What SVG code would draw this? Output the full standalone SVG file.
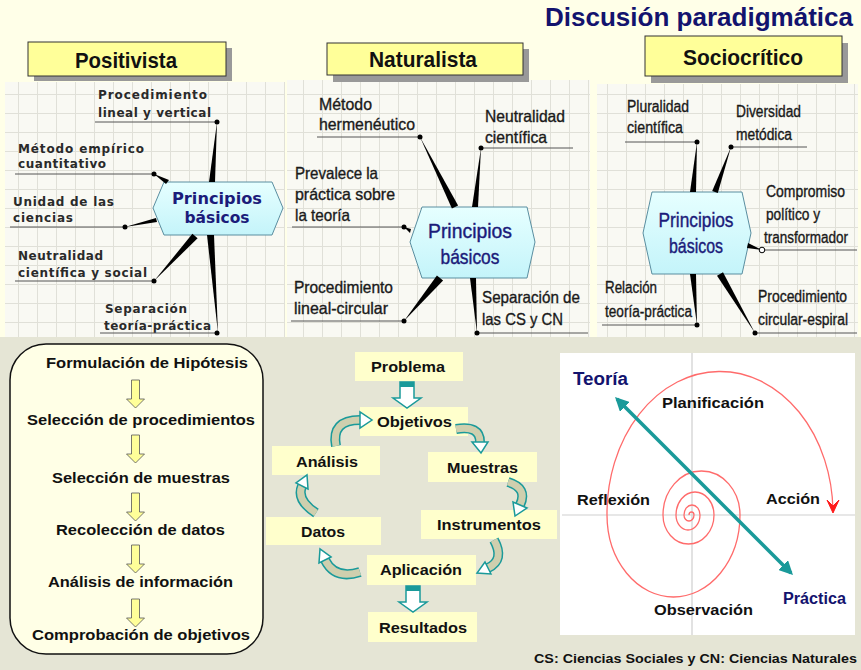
<svg xmlns="http://www.w3.org/2000/svg" width="861" height="670" viewBox="0 0 861 670">
<defs>
<style>
.t1{font-family:"DejaVu Sans",Verdana,sans-serif;font-weight:bold;font-size:12px;fill:#2a2a2a}
.t2{font-family:"Liberation Sans",Arial,sans-serif;font-size:16.5px;fill:#1a1a1a;stroke:#1a1a1a;stroke-width:0.35}
.t3{font-family:"Liberation Sans",Arial,sans-serif;font-size:16px;fill:#1a1a1a;stroke:#1a1a1a;stroke-width:0.35}
.hx1{font-family:"DejaVu Sans",Verdana,sans-serif;font-weight:bold;font-size:16px;fill:#1b1b7a;text-anchor:middle}
.hx2{font-family:"Liberation Sans",Arial,sans-serif;font-size:21px;fill:#1b1b7a;stroke:#1b1b7a;stroke-width:0.4;text-anchor:middle}
.ttl{font-family:"Liberation Sans",Arial,sans-serif;font-weight:bold;font-size:22px;fill:#111;text-anchor:middle}
.b{font-family:"Liberation Sans",Arial,sans-serif;font-weight:bold;font-size:15px;fill:#111;text-anchor:middle}
.nv{font-family:"Liberation Sans",Arial,sans-serif;font-weight:bold;fill:#13136e}
.ul{stroke:#555;stroke-width:1}
.wg{fill:#000}
.dot{fill:#000}
.hex{fill:url(#hg);stroke:#5a8ea0;stroke-width:1}
.tbox{fill:#ffff99;stroke:#333;stroke-width:1}
.shd{fill:#999}
.yb{fill:#ffffcc}
.ya{fill:#ffff99;stroke:#555;stroke-width:0.8}
.ta{fill:#fff;stroke:#1a9a9a;stroke-width:1.5}
.bo{fill:none;stroke:#1a9a9a;stroke-width:10;stroke-linecap:butt}
.bi{fill:none;stroke:#cfcfae;stroke-width:7;stroke-linecap:butt}
.ah{fill:#fff;stroke:#1a9a9a;stroke-width:1.5;stroke-linejoin:miter}
</style>
<pattern id="grid" width="19" height="19" patternUnits="userSpaceOnUse">
<rect width="19" height="19" fill="#f9f9f3"/>
<path d="M18.5 0V19M0 18.5H19" stroke="#e0e0d8" stroke-width="1" fill="none"/>
</pattern>
<linearGradient id="hg" x1="0" y1="0" x2="0" y2="1">
<stop offset="0" stop-color="#e6ffff"/>
<stop offset="1" stop-color="#c4f4fa"/>
</linearGradient>
<path id="yarrow" d="M-4 0H4V19H9L0 28L-9 19H-4Z"/>
<path id="tarrow" d="M-7 0H7V16H14L0 26L-14 16H-7Z"/>
<marker id="mt" viewBox="0 0 10 10" refX="8" refY="5" markerWidth="4" markerHeight="4" orient="auto-start-reverse">
<path d="M0 0L10 5L0 10Z" fill="#1a9a9a"/>
</marker>
</defs>

<!-- backgrounds -->
<rect x="0" y="0" width="861" height="337" fill="#ffffe8"/>
<rect x="0" y="337" width="861" height="333" fill="#e5e5d5"/>
<rect x="5" y="82" width="280" height="255" fill="url(#grid)"/>
<rect x="287" y="80" width="303" height="257" fill="url(#grid)"/>
<rect x="597" y="84" width="261" height="253" fill="url(#grid)"/>

<text class="nv" x="545" y="26" font-size="25" textLength="308" lengthAdjust="spacingAndGlyphs">Discusión paradigmática</text>

<!-- title boxes -->
<g id="positivista">
<rect class="shd" x="34" y="48" width="198" height="33"/>
<rect class="tbox" x="28" y="42" width="198" height="34"/>
<text class="ttl" x="126" y="68" textLength="102" lengthAdjust="spacingAndGlyphs">Positivista</text>
</g>
<g id="naturalista">
<rect class="shd" x="333" y="49" width="196" height="33"/>
<rect class="tbox" x="327" y="43" width="196" height="32"/>
<text class="ttl" x="423" y="67" textLength="108" lengthAdjust="spacingAndGlyphs">Naturalista</text>
</g>
<g id="sociocritico">
<rect class="shd" x="651" y="43" width="197" height="40"/>
<rect class="tbox" x="645" y="36" width="197" height="40"/>
<text class="ttl" x="743" y="65" font-size="19" textLength="120" lengthAdjust="spacingAndGlyphs">Sociocrítico</text>
</g>

<!-- Map 1 nodes -->
<g id="hex1">
<polygon class="hex" points="153,208 164,182 272,182 283,208 272,235 164,235"/>
<text class="hx1" x="217" y="204" textLength="90" lengthAdjust="spacingAndGlyphs">Principios</text>
<text class="hx1" x="217" y="223" textLength="65" lengthAdjust="spacingAndGlyphs">básicos</text>
</g>
<g id="p1a"><text class="t1" x="98" y="99" textLength="109">Procedimiento</text><text class="t1" x="98" y="117" textLength="113">lineal y vertical</text></g>
<g id="p1b"><text class="t1" x="18" y="153" textLength="126">Método empírico</text><text class="t1" x="18" y="168" textLength="88">cuantitativo</text></g>
<g id="p1c"><text class="t1" x="13" y="206" textLength="101">Unidad de las</text><text class="t1" x="13" y="222" textLength="60">ciencias</text></g>
<g id="p1d"><text class="t1" x="18" y="260" textLength="85">Neutralidad</text><text class="t1" x="18" y="277" textLength="129">científica y social</text></g>
<g id="p1e"><text class="t1" x="105" y="313" textLength="82">Separación</text><text class="t1" x="104" y="330" textLength="107">teoría-práctica</text></g>

<!-- Map 2 nodes -->
<g id="hex2">
<polygon class="hex" points="410,242 422,207 527,207 535,242 527,278 422,278"/>
<text class="hx2" x="470" y="238" textLength="84" lengthAdjust="spacingAndGlyphs">Principios</text>
<text class="hx2" x="470" y="264" textLength="59" lengthAdjust="spacingAndGlyphs">básicos</text>
</g>
<g id="p2a"><text class="t2" x="319" y="110" textLength="53" lengthAdjust="spacingAndGlyphs">Método</text><text class="t2" x="319" y="130" textLength="96" lengthAdjust="spacingAndGlyphs">hermenéutico</text></g>
<g id="p2b"><text class="t2" x="485" y="122" textLength="80" lengthAdjust="spacingAndGlyphs">Neutralidad</text><text class="t2" x="485" y="143" textLength="62" lengthAdjust="spacingAndGlyphs">científica</text></g>
<g id="p2c"><text class="t2" x="295" y="179" textLength="83" lengthAdjust="spacingAndGlyphs">Prevalece la</text><text class="t2" x="295" y="200" textLength="100" lengthAdjust="spacingAndGlyphs">práctica sobre</text><text class="t2" x="295" y="221" textLength="55" lengthAdjust="spacingAndGlyphs">la teoría</text></g>
<g id="p2d"><text class="t2" x="294" y="293" textLength="99" lengthAdjust="spacingAndGlyphs">Procedimiento</text><text class="t2" x="294" y="314" textLength="94" lengthAdjust="spacingAndGlyphs">lineal-circular</text></g>
<g id="p2e"><text class="t2" x="482" y="303" textLength="98" lengthAdjust="spacingAndGlyphs">Separación de</text><text class="t2" x="482" y="325" textLength="81" lengthAdjust="spacingAndGlyphs">las CS y CN</text></g>

<!-- Map 3 nodes -->
<g id="hex3">
<polygon class="hex" points="643,233 652,192 742,192 751,233 742,274 652,274"/>
<text class="hx2" x="696" y="227" font-size="20" textLength="75" lengthAdjust="spacingAndGlyphs">Principios</text>
<text class="hx2" x="696" y="253" font-size="20" textLength="54" lengthAdjust="spacingAndGlyphs">básicos</text>
</g>
<g id="p3a"><text class="t3" x="627" y="112" textLength="62" lengthAdjust="spacingAndGlyphs">Pluralidad</text><text class="t3" x="627" y="133" textLength="56" lengthAdjust="spacingAndGlyphs">científica</text></g>
<g id="p3b"><text class="t3" x="736" y="117" textLength="65" lengthAdjust="spacingAndGlyphs">Diversidad</text><text class="t3" x="736" y="140" textLength="56" lengthAdjust="spacingAndGlyphs">metódica</text></g>
<g id="p3c"><text class="t3" x="766" y="197" textLength="79" lengthAdjust="spacingAndGlyphs">Compromiso</text><text class="t3" x="766" y="220" textLength="54" lengthAdjust="spacingAndGlyphs">político y</text><text class="t3" x="764" y="243" font-size="14" textLength="84" lengthAdjust="spacingAndGlyphs">transformador</text></g>
<g id="p3d"><text class="t3" x="605" y="293" textLength="52" lengthAdjust="spacingAndGlyphs">Relación</text><text class="t3" x="605" y="317" textLength="87" lengthAdjust="spacingAndGlyphs">teoría-práctica</text></g>
<g id="p3e"><text class="t3" x="758" y="302" textLength="89" lengthAdjust="spacingAndGlyphs">Procedimiento</text><text class="t3" x="758" y="325" textLength="90" lengthAdjust="spacingAndGlyphs">circular-espiral</text></g>

<!-- Left process box -->
<g id="proceso">
<rect x="10" y="344" width="253" height="310" rx="36" fill="#ffffe6" stroke="#111" stroke-width="1.5"/>
<text class="b" x="147" y="368" textLength="202" lengthAdjust="spacingAndGlyphs">Formulación de Hipótesis</text>
<text class="b" x="141" y="425" textLength="228" lengthAdjust="spacingAndGlyphs">Selección de procedimientos</text>
<text class="b" x="141" y="483" textLength="178" lengthAdjust="spacingAndGlyphs">Selección de muestras</text>
<text class="b" x="140.5" y="535" textLength="169" lengthAdjust="spacingAndGlyphs">Recolección de datos</text>
<text class="b" x="140.5" y="587" textLength="185" lengthAdjust="spacingAndGlyphs">Análisis de información</text>
<text class="b" x="141" y="640" textLength="218" lengthAdjust="spacingAndGlyphs">Comprobación de objetivos</text>
</g>

<!-- Middle cycle nodes -->
<g id="problema"><rect class="yb" x="355" y="352" width="108" height="29"/><text class="b" x="408" y="372" textLength="74" lengthAdjust="spacingAndGlyphs">Problema</text></g>
<g id="objetivos"><rect class="yb" x="360" y="407" width="108" height="29"/><text class="b" x="414.5" y="427" textLength="75" lengthAdjust="spacingAndGlyphs">Objetivos</text></g>
<g id="analisis"><rect class="yb" x="272" y="446" width="108" height="29"/><text class="b" x="327" y="467" textLength="62" lengthAdjust="spacingAndGlyphs">Análisis</text></g>
<g id="muestras"><rect class="yb" x="428" y="452" width="109" height="30"/><text class="b" x="482.5" y="473" textLength="71" lengthAdjust="spacingAndGlyphs">Muestras</text></g>
<g id="instrumentos"><rect class="yb" x="421" y="510" width="136" height="29"/><text class="b" x="489" y="530" textLength="104" lengthAdjust="spacingAndGlyphs">Instrumentos</text></g>
<g id="datos"><rect class="yb" x="266" y="517" width="115" height="28"/><text class="b" x="323" y="537" textLength="44" lengthAdjust="spacingAndGlyphs">Datos</text></g>
<g id="aplicacion"><rect class="yb" x="367" y="555" width="109" height="30"/><text class="b" x="421" y="575" textLength="82" lengthAdjust="spacingAndGlyphs">Aplicación</text></g>
<g id="resultados"><rect class="yb" x="368" y="612" width="109" height="30"/><text class="b" x="423" y="633" textLength="88" lengthAdjust="spacingAndGlyphs">Resultados</text></g>

<!-- Right spiral panel -->
<g id="espiral">
<rect x="560" y="353" width="295" height="282" fill="#fff"/>
<line x1="692" y1="353" x2="692" y2="635" stroke="#cfcfcf" stroke-width="1.2"/>
<line x1="562" y1="515" x2="855" y2="515" stroke="#cfcfcf" stroke-width="1.2"/>
<text class="nv" x="573" y="385" font-size="18" textLength="55" lengthAdjust="spacingAndGlyphs">Teoría</text>
<text class="b" x="713" y="408" textLength="102" lengthAdjust="spacingAndGlyphs">Planificación</text>
<text class="b" x="613.5" y="505" textLength="73" lengthAdjust="spacingAndGlyphs">Reflexión</text>
<text class="b" x="793" y="504" textLength="54" lengthAdjust="spacingAndGlyphs">Acción</text>
<text class="b" x="703.5" y="615" textLength="99" lengthAdjust="spacingAndGlyphs">Observación</text>
<text class="nv" x="783" y="604" font-size="16" textLength="63" lengthAdjust="spacingAndGlyphs">Práctica</text>
</g>

<!-- connectors -->
<g id="connectors">
<!-- map 1 -->
<line class="ul" x1="95" y1="122" x2="217" y2="122"/>
<line class="ul" x1="15" y1="174" x2="154" y2="174"/>
<line class="ul" x1="10" y1="227" x2="125" y2="227"/>
<line class="ul" x1="15" y1="281" x2="154" y2="281"/>
<line class="ul" x1="100" y1="333" x2="217" y2="333"/>
<polygon class="wg" points="217,122 215,182 209,182"/>
<polygon class="wg" points="207,235 214,235 218,333"/>
<polygon class="wg" points="154,174 169,180 166,184"/>
<polygon class="wg" points="125,227 156,218 157,222"/>
<polygon class="wg" points="154,281 197.6,238.3 192.4,233.7"/>
<circle class="dot" cx="217" cy="122" r="2.5"/>
<circle class="dot" cx="154" cy="174" r="2.5"/>
<circle class="dot" cx="125" cy="227" r="2.5"/>
<circle class="dot" cx="154" cy="281" r="2.5"/>
<circle class="dot" cx="217" cy="333" r="2.5"/>
<!-- map 2 -->
<line class="ul" x1="317" y1="137" x2="420" y2="137"/>
<line class="ul" x1="481" y1="148" x2="573" y2="148"/>
<line class="ul" x1="292" y1="227" x2="404" y2="227"/>
<line class="ul" x1="291" y1="321" x2="404" y2="321"/>
<line class="ul" x1="477" y1="333" x2="588" y2="333"/>
<polygon class="wg" points="420,137 458.1,205.4 451.9,208.6"/>
<polygon class="wg" points="481,148 478,207 472,207"/>
<polygon class="wg" points="404,227 411,229 410,233"/>
<polygon class="wg" points="404,321 443.1,280.6 436.9,275.4"/>
<polygon class="wg" points="470,278 476,278 477,333"/>
<circle class="dot" cx="420" cy="137" r="2.5"/>
<circle class="dot" cx="481" cy="148" r="2.5"/>
<circle class="dot" cx="404" cy="227" r="2.5"/>
<circle class="dot" cx="404" cy="321" r="2.5"/>
<circle class="dot" cx="477" cy="333" r="2.5"/>
<!-- map 3 -->
<line class="ul" x1="625" y1="142" x2="697" y2="142"/>
<line class="ul" x1="731" y1="147" x2="807" y2="147"/>
<line class="ul" x1="762" y1="250" x2="857" y2="250"/>
<line class="ul" x1="602" y1="325" x2="697" y2="325"/>
<line class="ul" x1="754" y1="333" x2="857" y2="333"/>
<polygon class="wg" points="697,142 696,192 690,192"/>
<polygon class="wg" points="731,147 717.8,193 712.2,191"/>
<polygon class="wg" points="748,243 762,250 747,248"/>
<polygon class="wg" points="690,274 696,274 697,325"/>
<polygon class="wg" points="717,275.8 723,272.2 755,333"/>
<circle class="dot" cx="697" cy="142" r="2.5"/>
<circle class="dot" cx="731" cy="147" r="2.5"/>
<circle cx="762" cy="250" r="2.8" fill="#fff" stroke="#000" stroke-width="1"/>
<circle class="dot" cx="697" cy="325" r="2.5"/>
<circle class="dot" cx="755" cy="333" r="2.5"/>

<!-- yellow arrows in left box -->
<use href="#yarrow" class="ya" x="135.5" y="380"/>
<use href="#yarrow" class="ya" x="135.5" y="435"/>
<use href="#yarrow" class="ya" x="135.5" y="493"/>
<use href="#yarrow" class="ya" x="135.5" y="545"/>
<use href="#yarrow" class="ya" x="135.5" y="599"/>

<!-- teal down arrows -->
<use href="#tarrow" class="ta" x="407" y="382"/>
<rect x="400" y="382" width="14" height="5" fill="#1a9a9a"/>
<use href="#tarrow" class="ta" x="413" y="586"/>
<rect x="406" y="586" width="14" height="5" fill="#1a9a9a"/>

<!-- curved arrows -->
<path class="bo" d="M336 446Q331 420 360 420"/>
<path class="bi" d="M336 446Q331 420 360 420"/>
<polygon class="ah" points="360,412 360,428 372,420"/>

<path class="bo" d="M456 429Q480 425 480 442"/>
<path class="bi" d="M456 429Q480 425 480 442"/>
<polygon class="ah" points="472,442 488,442 481,453"/>

<path class="bo" d="M508 482Q528 488 520 505"/>
<path class="bi" d="M508 482Q528 488 520 505"/>
<polygon class="ah" points="527,508 513,502 515,516"/>

<path class="bo" d="M494 540Q505 560 488 568"/>
<path class="bi" d="M494 540Q505 560 488 568"/>
<polygon class="ah" points="491,574 485,562 477,573"/>

<path class="bo" d="M360 572Q335 580 325 560"/>
<path class="bi" d="M360 572Q335 580 325 560"/>
<polygon class="ah" points="331,557 319,563 320,549"/>

<path class="bo" d="M316 513Q296 500 302 486"/>
<path class="bi" d="M316 513Q296 500 302 486"/>
<polygon class="ah" points="308,489 296,483 307,475"/>

<!-- spiral diagram connectors -->
<path d="M689 515A2.5 3 0 0 1 694 515A5 6 0 0 1 684 515A8 10 0 0 1 700 515A12 15 0 0 1 676 515A19 23 0 0 1 714 515A25.5 29 0 0 1 663 515A38.5 44 0 0 1 740 515A66.5 82 0 0 1 607 515A113 142 0 0 1 833 512" fill="none" stroke="#ff6b6b" stroke-width="1.3"/>
<path d="M827 500L833 513L839 500L833 506Z" fill="#ff1a1a" stroke="#ff1a1a" stroke-width="1"/>
<line x1="617" y1="399" x2="791" y2="573" stroke="#1a9a9a" stroke-width="3.5" marker-start="url(#mt)" marker-end="url(#mt)"/>
</g>

<text x="857" y="663" text-anchor="end" font-family="Liberation Sans,Arial,sans-serif" font-weight="bold" font-size="12" fill="#111" textLength="323" lengthAdjust="spacingAndGlyphs">CS: Ciencias Sociales y CN: Ciencias Naturales</text>
</svg>
